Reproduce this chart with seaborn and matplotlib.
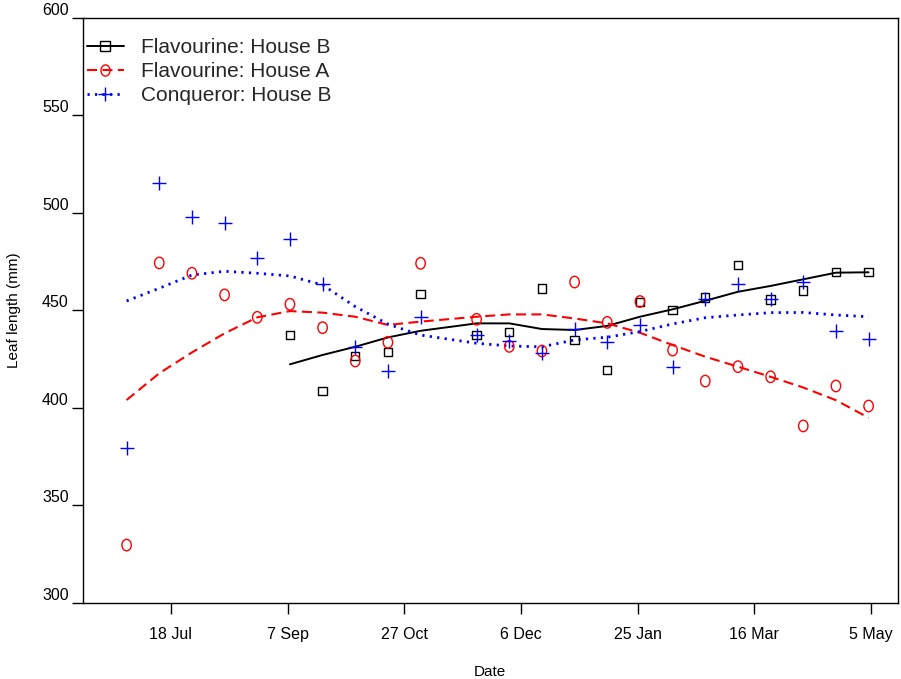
import matplotlib
matplotlib.use("Agg")
import matplotlib.pyplot as plt
import seaborn as sns
from matplotlib.lines import Line2D
from matplotlib.path import Path
from matplotlib.transforms import Affine2D

# Sampling days (day 0 = 18 Jul axis mark)
day = [-19, -5, 9, 23, 37, 51, 65, 79, 93, 107, 131, 145, 159, 173, 187,
       201, 215, 229, 243, 257, 271, 285, 299]

tick_days = [0, 50, 100, 150, 200, 250, 300]
tick_labels = ["18 Jul", "7 Sep", "27 Oct", "6 Dec", "25 Jan", "16 Mar", "5 May"]
y_ticks = [300, 350, 400, 450, 500, 550, 600]

# Flavourine, House B (sampled from 7 Sep onward)
flav_b_day = day[5:]
flav_b = [437.3, 408.7, 426.7, 428.7, 458.5, 437.3, 439.0, 461.2, 434.9,
          419.6, 454.4, 450.3, 456.6, 473.5, 455.7, 460.2, 469.9, 469.7]
flav_b_fit = [422.4, 427.2, 431.4, 436.2, 439.6, 443.4, 443.4, 440.5, 440.0,
              442.1, 446.8, 450.6, 455.0, 459.6, 462.6, 466.0, 469.4, 469.6]

# Flavourine, House A
flav_a = [329.7, 474.4, 469.1, 458.0, 446.5, 453.2, 441.2, 424.1, 433.7,
          474.2, 445.5, 431.6, 429.2, 464.6, 443.9, 454.6, 429.7, 413.8,
          421.2, 416.0, 390.8, 411.3, 401.0]
flav_a_fit = [404.1, 417.8, 428.5, 438.3, 446.5, 449.7, 448.9, 446.8, 442.6,
              444.3, 446.8, 448.0, 448.0, 445.9, 443.4, 438.6, 432.3, 426.3,
              421.2, 416.0, 410.5, 404.0, 395.0]

# Conqueror, House B
conq_b = [379.3, 515.5, 498.1, 494.7, 476.9, 486.7, 463.6, 431.1, 419.1,
          446.8, 437.3, 434.5, 428.0, 440.7, 433.8, 442.4, 421.2, 456.0,
          463.6, 455.7, 464.8, 439.6, 435.2]
conq_b_fit = [454.9, 461.4, 468.2, 470.1, 469.1, 467.7, 463.1, 452.0, 443.0,
              437.4, 433.2, 431.8, 431.4, 434.9, 436.3, 439.2, 443.1, 446.3,
              447.7, 448.9, 449.0, 447.7, 446.8]

sns.set_theme(style="white")
plt.rcParams["font.family"] = ["Liberation Sans", "DejaVu Sans"]

fig = plt.figure(figsize=(9.01, 6.79), dpi=100)
ax = fig.add_axes([82.5 / 901, 76 / 679, 815.5 / 901, 585 / 679])

# slightly tall open oval marker
oval = Path.unit_circle().transformed(Affine2D().scale(0.82, 1.0))

dash_red = (0, (4.8, 2.6))
dot_blue = (0, (0.8, 1.9))

# smoothed trends
sns.lineplot(x=flav_b_day, y=flav_b_fit, ax=ax, color="black", lw=1.4,
             estimator=None, sort=False)
sns.lineplot(x=day, y=flav_a_fit, ax=ax, color="red", lw=1.5,
             linestyle=dash_red, estimator=None, sort=False)
sns.lineplot(x=day, y=conq_b_fit, ax=ax, color="blue", lw=2.0,
             linestyle=dot_blue, estimator=None, sort=False)

# observations
sns.scatterplot(x=flav_b_day, y=flav_b, ax=ax, marker="s", s=36,
                facecolor="none", edgecolor="black", linewidth=1.0, zorder=3)
sns.scatterplot(x=day, y=flav_a, ax=ax, marker=oval, s=68,
                facecolor="none", edgecolor="red", linewidth=1.0, zorder=3)
sns.scatterplot(x=day, y=conq_b, ax=ax, marker="+", s=90,
                color="blue", linewidth=1.0, zorder=3)

ax.set_xlim(-37.9, 311.6)
ax.set_ylim(300, 600)
ax.set_xticks(tick_days, tick_labels)
ax.set_yticks(y_ticks)
for lbl in ax.get_yticklabels():
    lbl.set_verticalalignment("bottom")

ax.tick_params(axis="both", direction="out", length=8, width=1,
               color="black", labelsize=11.5, labelcolor="black",
               bottom=True, left=True)
ax.tick_params(axis="x", pad=9)
ax.tick_params(axis="y", pad=2)

for sp in ax.spines.values():
    sp.set_visible(True)
    sp.set_color("black")
    sp.set_linewidth(1.0)

ax.set_xlabel("Date", fontsize=11, labelpad=17, color="black")
ax.set_ylabel("Leaf length (mm)", fontsize=11, labelpad=15, color="black")

handles = [
    Line2D([], [], color="black", lw=1.4, marker="s", ms=7, mfc="none",
           mec="black", mew=1.0),
    Line2D([], [], color="red", lw=1.5, linestyle=dash_red, marker=oval,
           ms=8, mfc="none", mec="red", mew=1.0),
    Line2D([], [], color="blue", lw=2.0, linestyle=dot_blue, marker="+",
           ms=10, mec="blue", mew=1.0),
]
labels = ["Flavourine: House B", "Flavourine: House A", "Conqueror: House B"]
ax.legend(handles, labels, loc="upper left", bbox_to_anchor=(0.005, 0.966),
          frameon=False, fontsize=15, borderaxespad=0, borderpad=0,
          handlelength=1.8, handletextpad=0.8, labelspacing=0.25)

fig.savefig("out.png", dpi=100)
